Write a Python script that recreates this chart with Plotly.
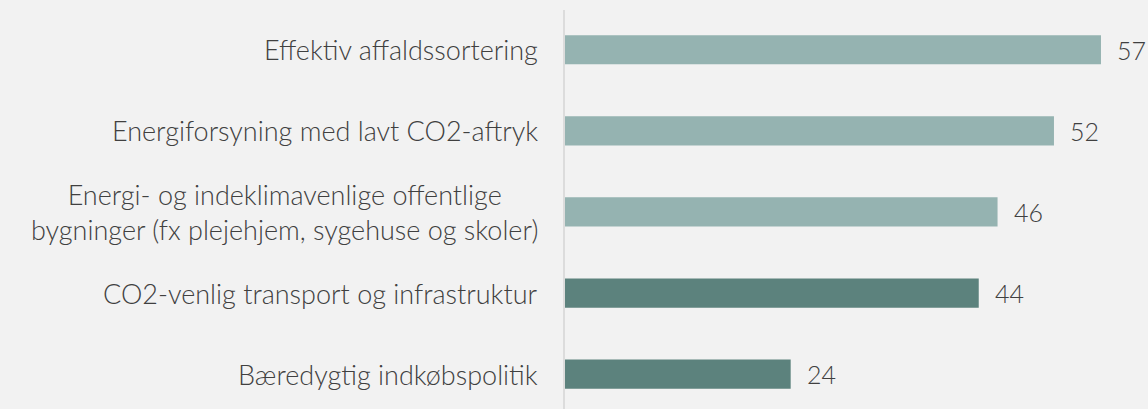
import plotly.graph_objects as go

categories = [
    "Effektiv affaldssortering",
    "Energiforsyning med lavt CO2-aftryk",
    "Energi- og indeklimavenlige offentlige<br>bygninger (fx plejehjem, sygehuse og skoler)",
    "CO2-venlig transport og infrastruktur",
    "Bæredygtig indkøbspolitik",
]
values = [57, 52, 46, 44, 24]
bar_colors = ["#95B3B1", "#95B3B1", "#95B3B1", "#5C827D", "#5C827D"]

FONT = "Lato"
TXT = "#404040"

fig = go.Figure(go.Bar(
    y=categories, x=values, orientation="h",
    marker=dict(color=bar_colors, line=dict(width=0)),
    width=0.36, hoverinfo="skip",
))

annotations = []
for c, v in zip(categories, values):
    annotations.append(dict(
        x=0, xref="paper", y=c, yref="y", text=c, showarrow=False,
        xanchor="right", yanchor="middle", align="center", xshift=-25,
        font=dict(family=FONT, size=27, color=TXT, weight=300),
    ))
    annotations.append(dict(
        x=v, xref="x", y=c, yref="y", text=str(v), showarrow=False,
        xanchor="left", yanchor="middle", xshift=14,
        font=dict(family=FONT, size=25, color=TXT, weight=300),
    ))

fig.update_layout(
    width=1148, height=409,
    margin=dict(l=565, r=0, t=10, b=0),
    paper_bgcolor="#F2F2F2", plot_bgcolor="#F2F2F2",
    showlegend=False,
    xaxis=dict(range=[0, 62.0], visible=False, fixedrange=True),
    yaxis=dict(range=[4.43, -0.49], showticklabels=False, ticks="",
               showgrid=False, zeroline=False, showline=True,
               linecolor="#DCDCDC", linewidth=2, fixedrange=True),
    annotations=annotations,
)

fig.write_html("out.html", config={"displayModeBar": False},
               post_script="document.body.style.margin='0';")
